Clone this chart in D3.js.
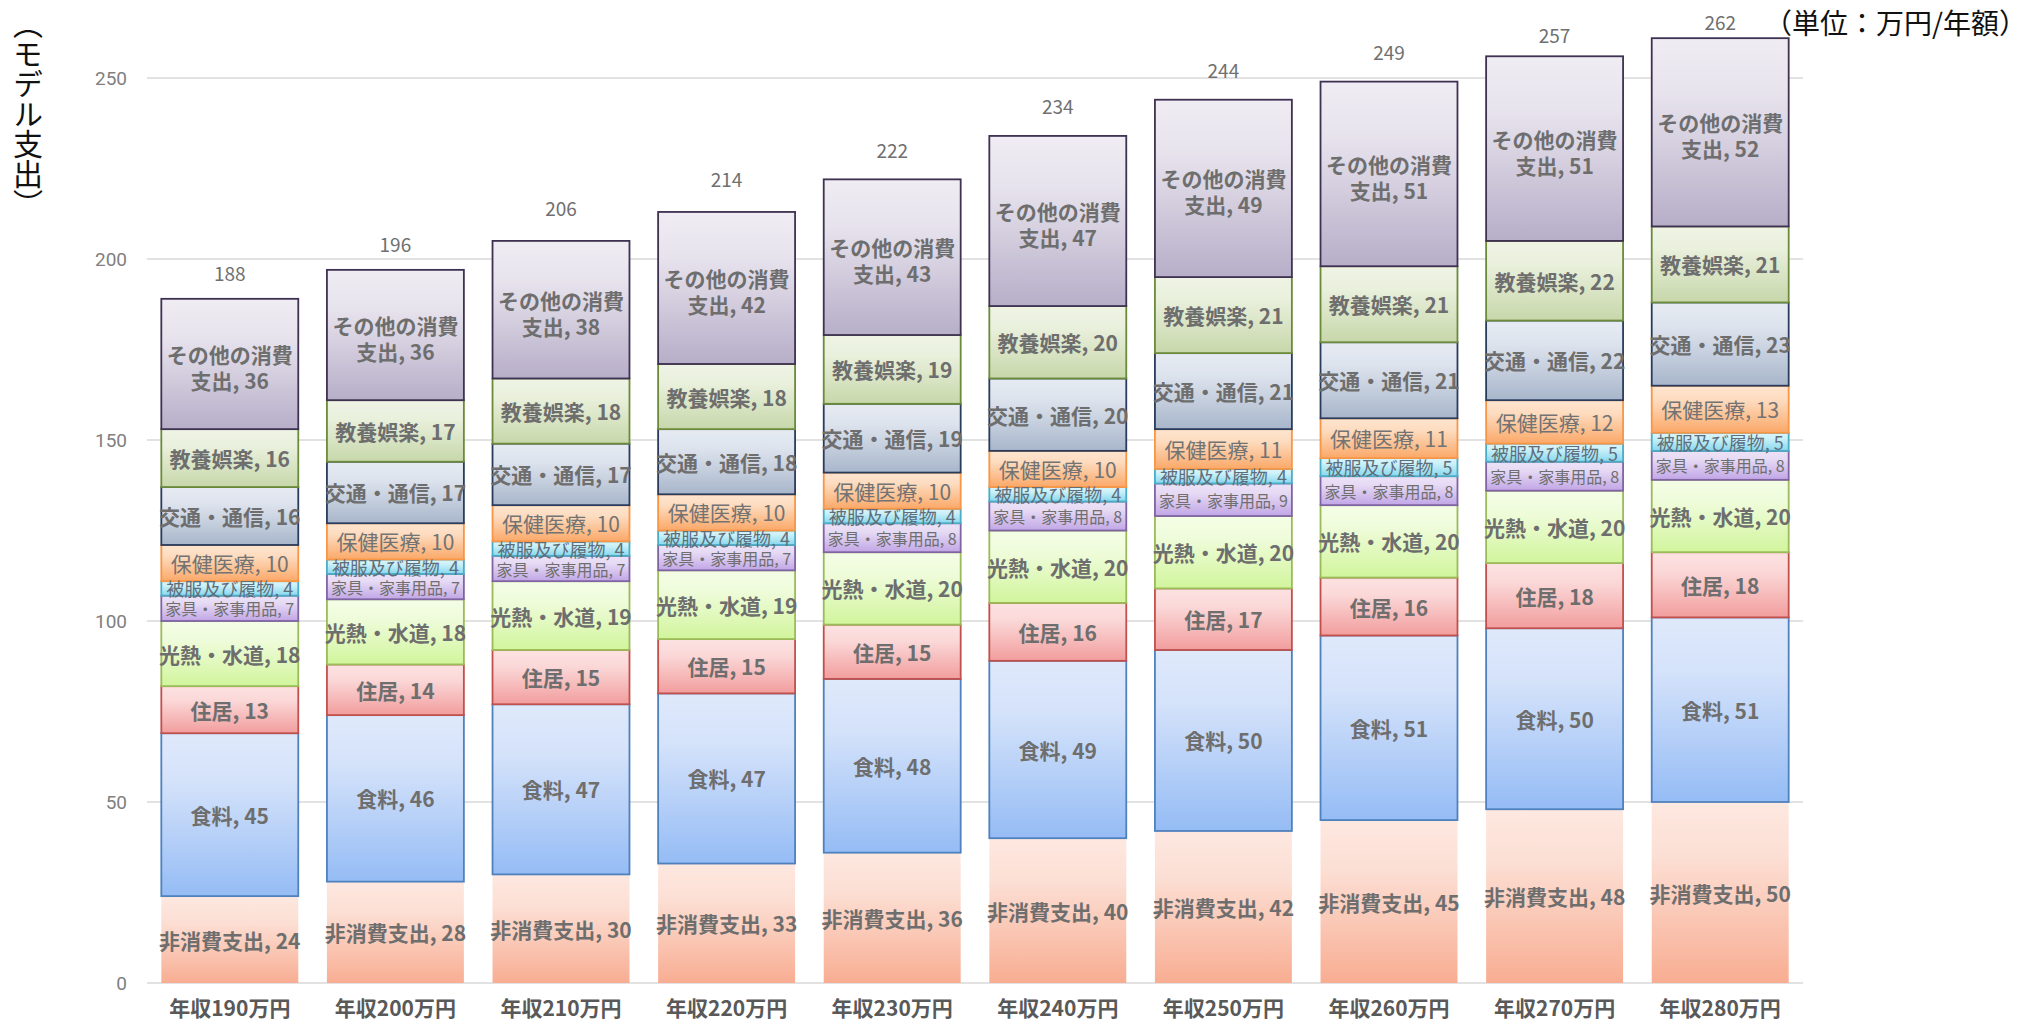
<!DOCTYPE html>
<html><head><meta charset="utf-8">
<script src="https://cdn.jsdelivr.net/npm/d3@7"></script>
<style>html,body{margin:0;padding:0;background:#fff;overflow:hidden}</style>
</head><body><svg id="chart" width="2032" height="1025"></svg>
<script>
// ---- data ----
const categories = ["年収190万円","年収200万円","年収210万円","年収220万円","年収230万円","年収240万円","年収250万円","年収260万円","年収270万円","年収280万円"];
const seriesNames = ["非消費支出","食料","住居","光熱・水道","家具・家事用品","被服及び履物","保健医療","交通・通信","教養娯楽","その他の消費支出"];
const nonConsumption = [24,28,30,33,36,40,42,45,48,50];
const food          = [45,46,47,47,48,49,50,51,50,51];
const housing       = [13,14,15,15,15,16,17,16,18,18];
const utilities     = [18,18,19,19,20,20,20,20,20,20];
const furniture     = [7,7,7,7,8,8,9,8,8,8];
const clothing      = [4,4,4,4,4,4,4,5,5,5];
const medical       = [10,10,10,10,10,10,11,11,12,13];
const transport     = [16,17,17,18,19,20,21,21,22,23];
const culture       = [16,17,18,18,19,20,21,21,22,21];
const otherSpend    = [36,36,38,42,43,47,49,51,51,52];
const totals        = [188,196,206,214,222,234,244,249,257,262];
const yTicks        = [0,50,100,150,200,250];
const yAxisTitle = "（モデル支出）";
const unitLabel = "（単位：万円/年額）";

// ---- styles ----
const gradTop    = ["#fde8e0","#dfe9fb","#fde2e2","#f4fde6","#ece3f7","#d9f5fb","#fde5cf","#e6ebf3","#eff4e5","#efecf3"];
const gradBottom = ["#f8ad92","#95bcf5","#f29d9d","#d1f59c","#c1a6e6","#86d8ee","#fba868","#a8b6cb","#c7d7aa","#b7aec8"];
const strokes    = [null,"#4f81bd","#c0504d","#9bbb59","#8064a2","#4bacc6","#f79646","#2a3b5c","#6b8a3a","#3f3151"];
const lblSize    = [21,21,21,21,16,18,21,21,21,21];
const lblWeight  = ["bold","bold","bold","bold","normal","normal","normal","bold","bold","bold"];
const lblColor   = ["#6e6e6e","#6e6e6e","#6e6e6e","#6e6e6e","#6f6f6f","#5f6e7a","#737373","#6e6e6e","#6e6e6e","#6e6e6e"];

const seriesValues = [nonConsumption, food, housing, utilities, furniture, clothing, medical, transport, culture, otherSpend];
const rows = categories.map((c,i)=>{ const r={cat:c}; seriesNames.forEach((s,j)=>r[s]=seriesValues[j][i]); return r; });
const stacked = d3.stack().keys(seriesNames)(rows);

const svg = d3.select("#chart");
const FONT = "'Noto Sans CJK JP','Noto Sans',sans-serif";

const x = d3.scaleBand().domain(categories).range([147,1803]).paddingInner(0.173).paddingOuter(0.0865);
const y = d3.scaleLinear().domain([0,250]).range([983,78]);

// gradients
const defs = svg.append("defs");
seriesNames.forEach((s,i)=>{
  const g = defs.append("linearGradient").attr("id","g"+i).attr("x1",0).attr("y1",0).attr("x2",0).attr("y2",1);
  g.append("stop").attr("offset","0%").attr("stop-color",gradTop[i]);
  g.append("stop").attr("offset","30%").attr("stop-color",d3.interpolateRgb(gradTop[i],gradBottom[i])(0.15));
  g.append("stop").attr("offset","100%").attr("stop-color",gradBottom[i]);
});

// gridlines + y axis
const yAxis = d3.axisLeft(y).tickValues(yTicks).tickSize(0).tickPadding(20);
const ya = svg.append("g").attr("transform","translate(147,0)").call(yAxis);
ya.select(".domain").remove();
ya.selectAll("text").attr("font-family","Roboto,'Liberation Sans',sans-serif").attr("font-size",19).attr("fill","#808080");
svg.append("g").selectAll("line").data(yTicks).join("line")
  .attr("x1",147).attr("x2",1803).attr("y1",d=>y(d)).attr("y2",d=>y(d))
  .attr("stroke","#d9d9d9").attr("stroke-width",1.3);

// bars
const layers = svg.append("g").selectAll("g").data(stacked).join("g");
layers.selectAll("rect").data((d,i)=>d.map(v=>({v,i}))).join("rect")
  .attr("x",d=>x(d.v.data.cat)).attr("width",x.bandwidth())
  .attr("y",d=>y(d.v[1])).attr("height",d=>y(d.v[0])-y(d.v[1]))
  .attr("fill",d=>`url(#g${d.i})`)
  .attr("stroke",d=>strokes[d.i]||"none").attr("stroke-width",1.8);

// segment labels
const lg = svg.append("g").attr("font-family",FONT);
stacked.forEach((layer,i)=>{
  layer.forEach(v=>{
    const cx = x(v.data.cat)+x.bandwidth()/2;
    const cy = (y(v[0])+y(v[1]))/2;
    const full = seriesNames[i]+", "+(v[1]-v[0]);
    const t = lg.append("text").attr("x",cx).attr("y",cy).attr("text-anchor","middle")
      .attr("dominant-baseline","central").attr("font-size",lblSize[i]).attr("font-weight",lblWeight[i])
      .attr("fill",lblColor[i]).text(full);
    if (i===seriesNames.length-1 && t.node().getComputedTextLength() > x.bandwidth()) {
      const chars = Array.from(full); let line1 = "";
      for (const ch of chars) { t.text(line1+ch); if (t.node().getComputedTextLength() > x.bandwidth()-4) break; line1 += ch; }
      const line2 = full.slice(line1.length);
      t.text(null);
      t.append("tspan").attr("x",cx).attr("y",cy-10).text(line1);
      t.append("tspan").attr("x",cx).attr("y",cy+16).text(line2);
    }
  });
});

// totals
svg.append("g").selectAll("text").data(totals).join("text")
  .attr("x",(d,i)=>x(categories[i])+x.bandwidth()/2)
  .attr("y",d=>{ const t=y(d); return t<60 ? 22+(t-35)*0.72 : t-30; })
  .attr("text-anchor","middle").attr("dominant-baseline","central")
  .attr("font-family",FONT).attr("font-size",19).attr("fill","#707070").text(d=>d);

// x axis labels
const xAxis = d3.axisBottom(x).tickSize(0).tickPadding(18);
const xa = svg.append("g").attr("transform","translate(0,983)").call(xAxis);
xa.select(".domain").remove();
xa.selectAll("text").attr("font-family",FONT).attr("font-size",21).attr("font-weight","bold").attr("fill","#595959");

// titles
svg.append("text").attr("x",28).attr("y",9).attr("font-family",FONT).attr("font-size",30)
  .style("writing-mode","vertical-rl").attr("fill","#111").text(yAxisTitle);
svg.append("text").attr("x",2027).attr("y",34).attr("text-anchor","end")
  .attr("font-family",FONT).attr("font-size",28).attr("fill","#111").text(unitLabel);
</script></body></html>
